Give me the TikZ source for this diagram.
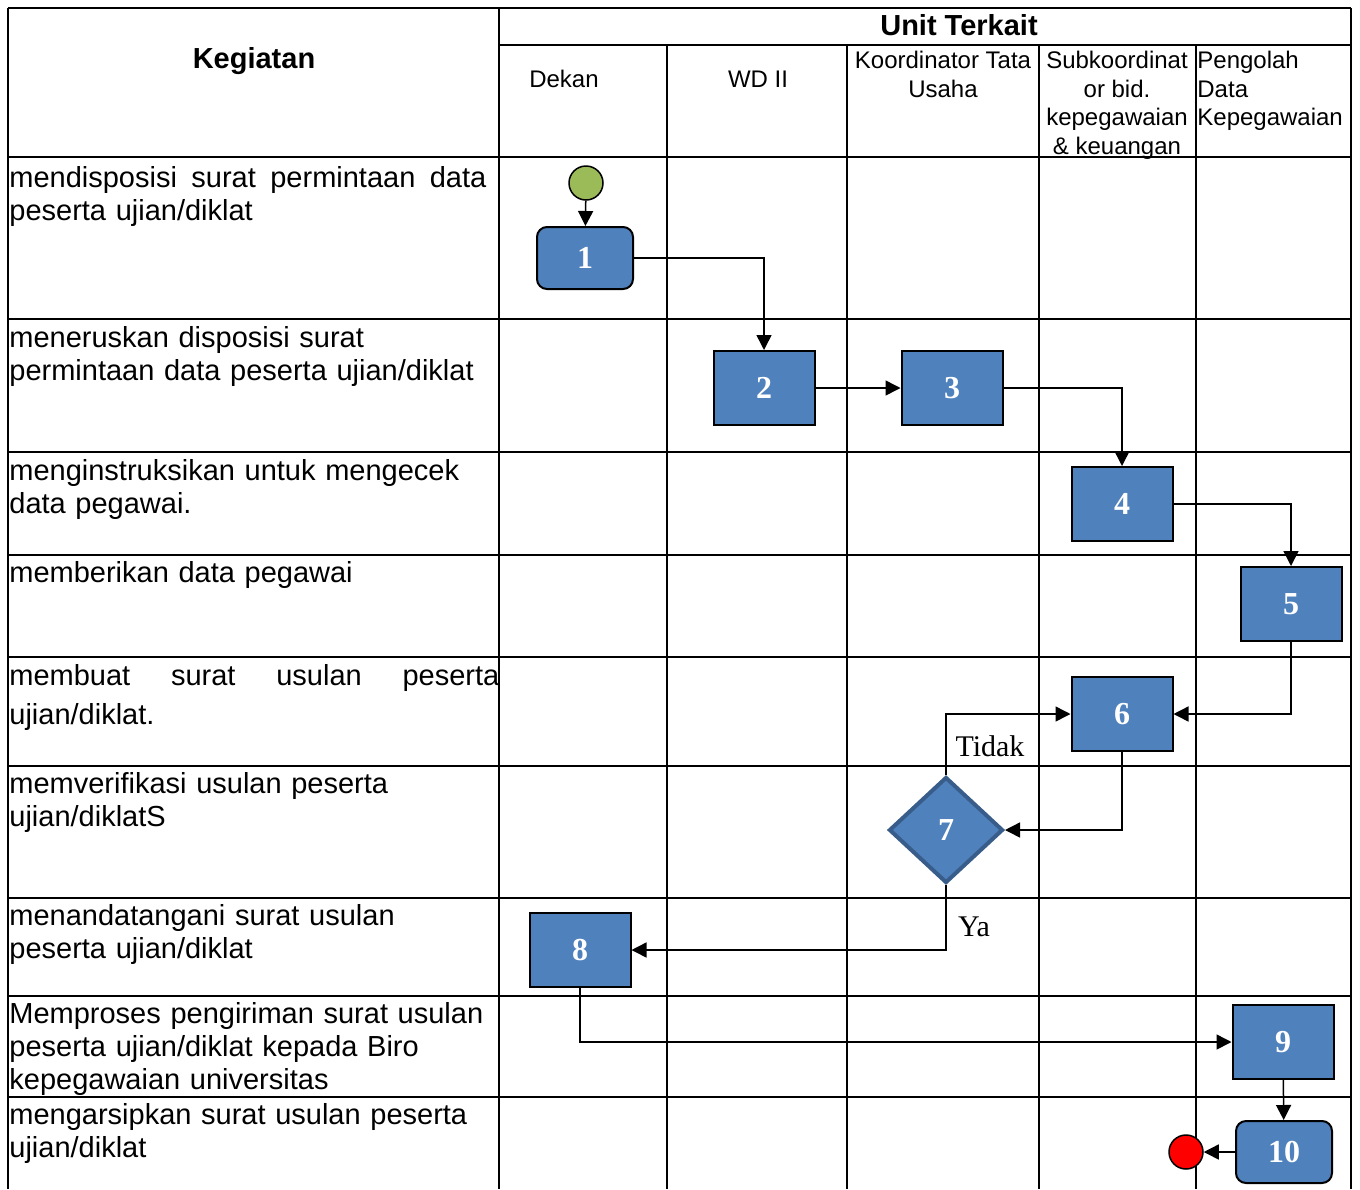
\documentclass[tikz,border=0pt]{standalone}
\usepackage{fontspec}
\setmainfont{Liberation Serif}
\setsansfont{Liberation Sans}
\usepackage[HTML]{xcolor}
\usepackage{tikz}
\usetikzlibrary{positioning, arrows, arrows.meta, shapes.geometric}

\definecolor{boxblue}{HTML}{4F81BD}
\definecolor{boxedge}{HTML}{385D8A}
\definecolor{startgreen}{HTML}{9BBB59}

\tikzset{
  grid/.style={line width=1.25pt},
  flow/.style={line width=0.75pt, -{Triangle[length=7.5pt, width=7.5pt]}},
  task/.style={rectangle, draw, line width=1pt, fill=boxblue, text=white,
    minimum width=50.5pt, minimum height=37pt, inner sep=0pt,
    font=\bfseries\fontsize{16}{18}\selectfont},
  roundtask/.style={task, rounded corners=5pt, minimum width=48pt, minimum height=31pt},
  decide/.style={diamond, aspect=1.07, draw=boxedge, line width=2pt, fill=boxblue,
    text=white, minimum width=57pt, minimum height=53pt, inner sep=0pt,
    font=\bfseries\fontsize{16}{18}\selectfont},
  startdot/.style={circle, draw, line width=0.75pt, fill=startgreen, minimum size=17pt, inner sep=0pt},
  stopdot/.style={circle, draw, line width=0.75pt, fill=red, minimum size=17pt, inner sep=0pt},
  act/.style={anchor=north west, inner sep=0pt, text width=245pt, align=left,
    font=\sffamily\fontsize{14.5}{16.5}\selectfont},
  head/.style={inner sep=0pt, align=center, font=\sffamily\fontsize{12}{14.3}\selectfont},
  headbold/.style={inner sep=0pt, font=\sffamily\bfseries\fontsize{14.5}{16}\selectfont},
  lbl/.style={inner sep=0pt, font=\fontsize{15}{17}\selectfont}
}

\begin{document}
\begin{tikzpicture}[x=0.5pt, y=-0.5pt]
\useasboundingbox (0,0) rectangle (1360,1189);

% table frame
\draw[grid] (8,8) -- (1351,8);
\draw[grid] (8,8) -- (8,1189);
\draw[grid] (499,8) -- (499,1189);
\draw[grid] (1351,8) -- (1351,1189);
\draw[grid] (499,45) -- (1351,45);
% unit columns
\draw[grid] (667,45) -- (667,1189);
\draw[grid] (847,45) -- (847,1189);
\draw[grid] (1039,45) -- (1039,1189);
\draw[grid] (1196,45) -- (1196,1189);
% rows
\draw[grid] (8,157) -- (1351,157);
\draw[grid] (8,319) -- (1351,319);
\draw[grid] (8,452) -- (1351,452);
\draw[grid] (8,555) -- (1351,555);
\draw[grid] (8,657) -- (1351,657);
\draw[grid] (8,766) -- (1351,766);
\draw[grid] (8,898) -- (1351,898);
\draw[grid] (8,996) -- (1351,996);
\draw[grid] (8,1097) -- (1351,1097);

% header
\node[headbold] (hKeg) at (254,61) {Kegiatan};
\node[headbold] (hUnit) at (959,25) {Unit Terkait};
\node[head] (hDekan) at (564,79) {Dekan};
\node[head] (hWD) at (758,79) {WD II};
\node[head, anchor=north] (hKTU) at (943,51) {Koordinator Tata\\Usaha};
\node[head, anchor=north] (hSub) at (1117,51) {Subkoordinat\\or bid.\\kepegawaian\\\& keuangan};
\node[head, anchor=north west, align=left] (hPDK) at (1197,51) {Pengolah\\Data\\Kepegawaian};

% activities
\node[act, text width=238.5pt] (a1) at (9,166) {mendisposisi\hfill surat\hfill permintaan\hfill data\\peserta ujian/diklat};
\node[act] (a2) at (9,326) {meneruskan disposisi surat\\permintaan data peserta ujian/diklat};
\node[act] (a3) at (9,459) {menginstruksikan untuk mengecek\\data pegawai.};
\node[act] (a4) at (9,561) {memberikan data pegawai};
\node[act] (a5) at (9,664) {membuat\hfill surat\hfill usulan\hfill peserta\\[3pt]ujian/diklat.};
\node[act] (a6) at (9,772) {memverifikasi usulan peserta\\ujian/diklatS};
\node[act] (a7) at (9,904) {menandatangani surat usulan\\peserta ujian/diklat};
\node[act] (a8) at (9,1002) {Memproses pengiriman surat usulan\\peserta ujian/diklat kepada Biro\\kepegawaian universitas};
\node[act] (a9) at (9,1103) {mengarsipkan surat usulan peserta\\ujian/diklat};

% flow
\node[startdot] (start) at (586,183) {};
\node[roundtask] (n1) at (585,258) {1};
\node[task] (n2) at (764,388) {2};
\node[task] (n3) at (952,388) {3};
\node[task] (n4) at (1122,504) {4};
\node[task] (n5) at (1291,604) {5};
\node[task] (n6) at (1122,714) {6};
\node[decide] (n7) at (946,830) {7};
\node[task] (n8) at (580,950) {8};
\node[task] (n9) at (1283,1042) {9};
\node[roundtask] (n10) at (1284,1152) {10};
\node[stopdot] (stop) at (1186,1152) {};

% decision labels
\node[lbl] (tidak) at (990,746) {Tidak};
\node[lbl] (ya) at (974,927) {Ya};

% relations
\draw[flow] (start) -- (n1);
\draw[flow] (n1.east) -| (n2.north);
\draw[flow] (n2.east) -- (n3.west);
\draw[flow] (n3.east) -| (n4.north);
\draw[flow] (n4.east) -| (n5.north);
\draw[flow] (n5.south) |- (n6.east);
\draw[flow] (n6.south) |- (n7.east);
\draw[flow] (n7.north) |- (n6.west);
\draw[flow] (n7.south) |- (n8.east);
\draw[flow] (n8.south) |- (n9.west);
\draw[flow] (n9) -- (n10);
\draw[flow] (n10.west) -- (stop.east);
\end{tikzpicture}
\end{document}
